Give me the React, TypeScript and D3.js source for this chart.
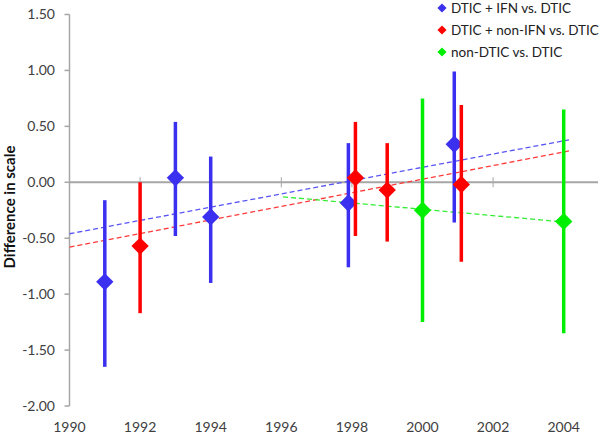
import { scaleLinear, symbol, symbolSquare } from "d3";

// series: DTIC + IFN vs. DTIC
const ifnYears = [1991, 1993, 1994, 1997.9, 2000.9];
const ifnMean = [-0.89, 0.04, -0.31, -0.185, 0.34];
const ifnLow = [-1.65, -0.48, -0.9, -0.76, -0.36];
const ifnHigh = [-0.16, 0.54, 0.23, 0.35, 0.99];

// series: DTIC + non-IFN vs. DTIC
const nonIfnYears = [1992, 1998.1, 1999, 2001.1];
const nonIfnMean = [-0.57, 0.04, -0.07, -0.02];
const nonIfnLow = [-1.17, -0.48, -0.53, -0.71];
const nonIfnHigh = [0.0, 0.54, 0.35, 0.69];

// series: non-DTIC vs. DTIC
const nonDticYears = [2000, 2004];
const nonDticMean = [-0.25, -0.35];
const nonDticLow = [-1.25, -1.35];
const nonDticHigh = [0.75, 0.65];

// linear trend lines [startYear, startValue, endYear, endValue]
const ifnTrend = [1990, -0.46, 2004.15, 0.38];
const nonIfnTrend = [1990, -0.58, 2004.15, 0.28];
const nonDticTrend = [1996.05, -0.13, 2004.2, -0.36];

const xTicks = [1990, 1992, 1994, 1996, 1998, 2000, 2002, 2004];
const yTicks = [1.5, 1, 0.5, 0, -0.5, -1, -1.5, -2];

const labels = [
  "DTIC + IFN vs. DTIC",
  "DTIC + non-IFN vs. DTIC",
  "non-DTIC vs. DTIC",
];

export default function App() {
  let x = scaleLinear().domain([1990, 2004]).range([69.5, 563.7]);
  let y = scaleLinear().domain([1.5, -2]).range([14.5, 406]);
  const font = "Lato, 'Open Sans', sans-serif";

  let series = [
    { years: ifnYears, mean: ifnMean, low: ifnLow, high: ifnHigh, trend: ifnTrend, color: "#3b2ff0", dash: "#5a55f5" },
    { years: nonIfnYears, mean: nonIfnMean, low: nonIfnLow, high: nonIfnHigh, trend: nonIfnTrend, color: "#ff0000", dash: "#ff3b3b" },
    { years: nonDticYears, mean: nonDticMean, low: nonDticLow, high: nonDticHigh, trend: nonDticTrend, color: "#00ee00", dash: "#33ee33" },
  ];

  const bigDiamond = symbol().type(symbolSquare).size(150)();
  const smallDiamond = symbol().type(symbolSquare).size(42)();

  return (
    <svg
      width={600}
      height={439}
      style={{ position: "absolute", left: 0, top: 0, background: "white" }}
      fontFamily={font}
    >
      {/* y axis */}
      <line x1={x(1990)} x2={x(1990)} y1={y(1.5)} y2={y(-2)} stroke="#a6a6a6" strokeWidth={1.5} />
      {yTicks.map((t) => (
        <g key={t}>
          <line x1={x(1990) - 5} x2={x(1990)} y1={y(t)} y2={y(t)} stroke="#a6a6a6" strokeWidth={1.5} />
          <text x={55} y={y(t)} dy="0.35em" textAnchor="end" fontSize={14} fill="#404040">
            {t.toFixed(2)}
          </text>
        </g>
      ))}
      {/* horizontal axis through zero */}
      <line x1={x(1990)} x2={598} y1={y(0)} y2={y(0)} stroke="#a6a6a6" strokeWidth={2} />
      {xTicks.map((t) => (
        <g key={t}>
          <line x1={x(t)} x2={x(t)} y1={y(0) - 5} y2={y(0) + 5} stroke="#a6a6a6" strokeWidth={1} />
          <text x={x(t)} y={432} textAnchor="middle" fontSize={14} fill="#404040">
            {t}
          </text>
        </g>
      ))}
      <text
        transform={`translate(15,${207}) rotate(-90)`}
        textAnchor="middle"
        fontSize={15}
        fontWeight="bold"
        fill="#111"
      >
        Difference in scale
      </text>

      {/* trend lines */}
      {series.map((s, i) => (
        <line
          key={"t" + i}
          x1={x(s.trend[0])}
          y1={y(s.trend[1])}
          x2={x(s.trend[2])}
          y2={y(s.trend[3])}
          stroke={s.dash}
          strokeWidth={1.3}
          strokeDasharray="5,3"
        />
      ))}

      {series.map((s, i) => (
        <g key={"s" + i}>
          {s.years.map((yr, j) => (
            <line
              key={"e" + j}
              x1={x(yr)}
              x2={x(yr)}
              y1={y(s.low[j])}
              y2={y(s.high[j])}
              stroke={s.color}
              strokeWidth={3.5}
            />
          ))}
          {s.years.map((yr, j) => (
            <path
              key={"m" + j}
              d={bigDiamond}
              transform={`translate(${x(yr)},${y(s.mean[j])}) rotate(45)`}
              fill={s.color}
            />
          ))}
        </g>
      ))}

      {/* legend */}
      {series.map((s, i) => (
        <g key={"l" + i} transform={`translate(442,${8 + i * 22})`}>
          <path d={smallDiamond} transform="rotate(45)" fill={s.color} />
          <text x={9} dy="0.35em" fontSize={13.5} fill="#222">
            {labels[i]}
          </text>
        </g>
      ))}
    </svg>
  );
}
